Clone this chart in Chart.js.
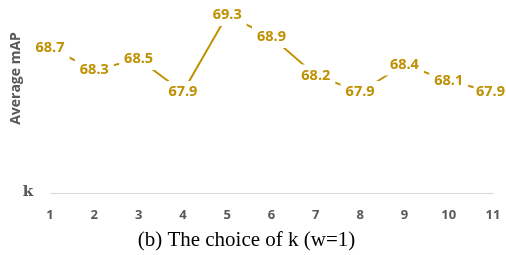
<!DOCTYPE html>
<html>
<head>
<meta charset="utf-8">
<script src="https://cdn.jsdelivr.net/npm/chart.js@4/dist/chart.umd.min.js"></script>
<style>
  html, body { margin: 0; padding: 0; background: #ffffff; overflow: hidden; }
  #wrap { position: absolute; left: 0; top: -36px; width: 506px; height: 291px; }
</style>
</head>
<body>
<div id="wrap"><canvas id="c"></canvas></div>
<script>
const categories = ['1', '2', '3', '4', '5', '6', '7', '8', '9', '10', '11'];
const mapValues = [68.7, 68.3, 68.5, 67.9, 69.3, 68.9, 68.2, 67.9, 68.4, 68.1, 67.9];
const yAxisTitle = 'Average mAP';
const xAxisName = 'k';
const caption = '(b) The choice of k (w=1)';

const GOLD = '#BF9000';
const GRAY = '#595959';

const labelPlugin = {
  id: 'pointLabels',
  afterDatasetsDraw(chart) {
    const ctx = chart.ctx;
    const meta = chart.getDatasetMeta(0);
    ctx.save();
    ctx.font = 'bold 14.5px "Open Sans"';
    ctx.textAlign = 'center';
    ctx.textBaseline = 'middle';
    meta.data.forEach((pt, i) => {
      const txt = mapValues[i].toFixed(1);
      const w = ctx.measureText(txt).width;
      ctx.fillStyle = '#ffffff';
      ctx.fillRect(pt.x - w / 2 - 5, pt.y - 11, w + 10, 22);
      ctx.fillStyle = GOLD;
      ctx.fillText(txt, Math.min(pt.x, chart.width - w / 2 - 1), pt.y);
    });
    // axis name "k" at the left end of the category axis
    const xs = chart.scales.x;
    ctx.font = 'bold 15px "DejaVu Serif"';
    ctx.fillStyle = GRAY;
    ctx.textAlign = 'center';
    ctx.fillText(xAxisName, 28, xs.top - 1);
    ctx.restore();
  }
};

new Chart(document.getElementById('c'), {
  type: 'line',
  data: {
    labels: categories,
    datasets: [{
      data: mapValues,
      borderColor: GOLD,
      borderWidth: 2,
      pointRadius: 0,
      pointHoverRadius: 0,
      tension: 0,
      fill: false
    }]
  },
  options: {
    responsive: true,
    maintainAspectRatio: false,
    animation: false,
    events: [],
    layout: { padding: { left: 0, right: 13, top: 0, bottom: 0 } },
    plugins: {
      legend: { display: false },
      tooltip: { enabled: false },
      title: {
        display: true,
        position: 'bottom',
        text: caption,
        color: '#000000',
        font: { family: '"Liberation Serif", "Times New Roman", serif', size: 21, weight: 'normal', lineHeight: 1.2 },
        padding: { top: 2.4, bottom: 2.4 }
      }
    },
    scales: {
      x: {
        type: 'category',
        offset: false,
        grid: { display: true, drawOnChartArea: false, drawTicks: true, tickLength: 14, color: 'rgba(0,0,0,0)' },
        border: { display: true, color: '#D9D9D9', width: 1 },
        ticks: {
          color: GRAY,
          font: { family: '"Open Sans"', size: 13, weight: 'bold' },
          padding: 0,
          maxRotation: 0,
          autoSkip: false
        },
        afterFit(scale) { scale.height = 32; }
      },
      y: {
        min: 66.0636,
        max: 70.227,
        grid: { display: false, drawTicks: false },
        border: { display: false },
        ticks: { display: false },
        title: {
          display: true,
          text: yAxisTitle,
          color: GRAY,
          font: { family: '"Open Sans"', size: 14, weight: 'bold', lineHeight: 1.2 },
          padding: { top: 8, bottom: 0 }
        },
        afterFit(scale) { scale.width = 50; }
      }
    }
  },
  plugins: [labelPlugin]
});
</script>
</body>
</html>
